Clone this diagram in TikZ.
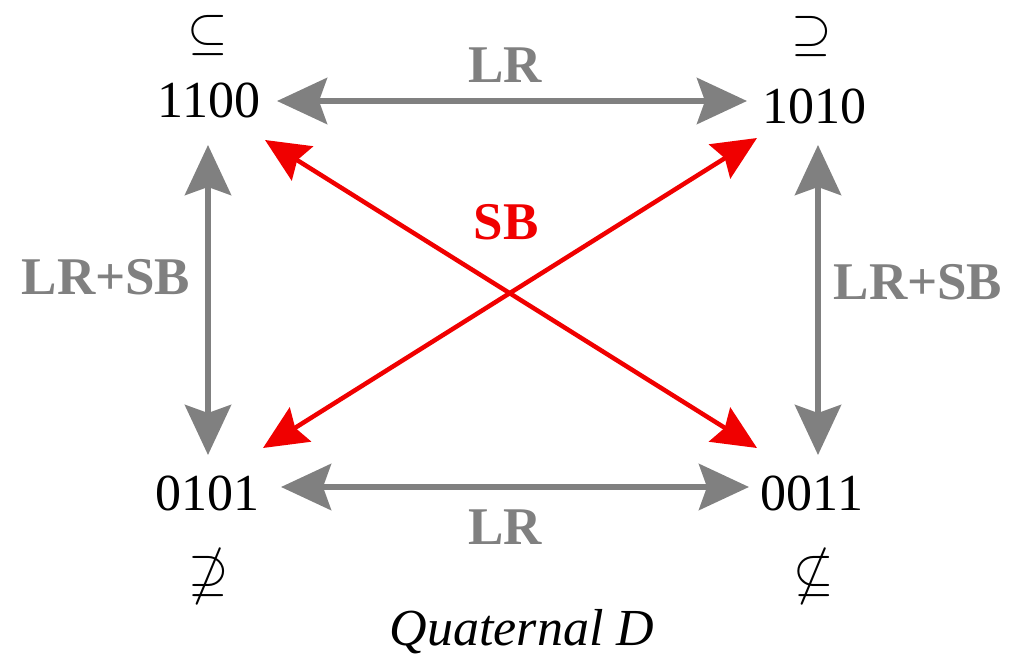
\documentclass[tikz,border=0pt]{standalone}
\usepackage{amssymb}
\usepackage{fontspec}
\setmainfont{Liberation Serif}
\usetikzlibrary{arrows.meta,calc}
\definecolor{lgray}{RGB}{128,128,128}
\definecolor{lred}{RGB}{240,0,0}
\begin{document}
\begin{tikzpicture}[x=1pt,y=-1pt,
  num/.style={inner sep=0pt, font=\fontsize{52}{60}\selectfont},
  sym/.style={inner sep=0pt},
  glabel/.style={inner sep=0pt, text=lgray, font=\fontsize{53}{60}\selectfont\bfseries},
  gtip/.tip={Stealth[length=50pt,width=46pt,inset=8pt]},
  rtip/.tip={Stealth[length=44pt,width=40pt,inset=6pt]},
  garrow/.style={draw=lgray, line width=6pt, gtip-gtip},
  rarrow/.style={draw=lred, line width=4.5pt, rtip-rtip}]
\useasboundingbox (0,0) rectangle (1023,663);
% number nodes
\node[num] (n1100) at (209,100) {1100};
\node[num] (n1010) at (814,106) {1010};
\node[num] (n0101) at (207,493) {0101};
\node[num] (n0011) at (812,493) {0011};
% relation symbols
\node[sym] (s1100) at (208,36) {\scalebox{5.2}{$\subseteq$}};
\node[sym] (s1010) at (812,37) {\scalebox{5.2}{$\supseteq$}};
\node[sym] (s0101) at (209,577) {\scalebox{5.2}{$\nsupseteq$}};
\node[sym] (s0011) at (814,577) {\scalebox{5.2}{$\nsubseteq$}};
% labels
\node[glabel] (lrtop) at (505,65) {LR};
\node[glabel] (lrbot) at (505,527) {LR};
\node[glabel] (lrsbl) at (106,277) {LR+SB};
\node[glabel] (lrsbr) at (918,282) {LR+SB};
\node[glabel,text=lred] (sb) at (506,222) {SB};
\node[anchor=base, inner sep=0pt, font=\fontsize{52}{60}\selectfont\itshape] (cap) at (522,645) {Quaternal D};
% gray arrows
\draw[garrow] ($(n1100.center)+(68,1)$) -- ($(n1010.center)+(-67,-5)$);
\draw[garrow] ($(n0101.center)+(74,-6)$) -- ($(n0011.center)+(-63,-6)$);
\draw[garrow] ($(n1100.center)+(-1,45)$) -- ($(n0101.center)+(1,-38)$);
\draw[garrow] ($(n1010.center)+(4,39)$) -- ($(n0011.center)+(6,-38)$);
% red arrows
\draw[rarrow] ($(n1100.center)+(56,40)$) -- ($(n0011.center)+(-55,-45)$);
\draw[rarrow] ($(n1010.center)+(-57,32)$) -- ($(n0101.center)+(56,-45)$);
\end{tikzpicture}
\end{document}
